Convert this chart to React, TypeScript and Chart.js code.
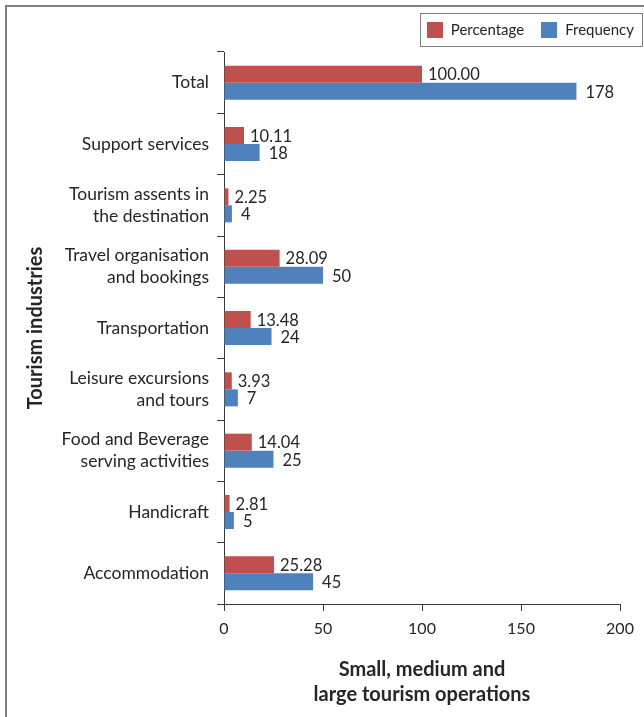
import React, { useEffect, useRef } from 'react';
import { Chart, registerables } from 'chart.js';

Chart.register(...registerables);

const categories: (string | string[])[] = [
  'Total',
  'Support services',
  ['Tourism assents in', 'the destination'],
  ['Travel organisation', 'and bookings'],
  'Transportation',
  ['Leisure excursions', 'and tours'],
  ['Food and Beverage', 'serving activities'],
  'Handicraft',
  'Accommodation',
];
const seriesNames = ['Percentage', 'Frequency'];
const percentage = [100.0, 10.11, 2.25, 28.09, 13.48, 3.93, 14.04, 2.81, 25.28];
const frequency = [178, 18, 4, 50, 24, 7, 25, 5, 45];
const xTickValues = [0, 50, 100, 150, 200];
const xTitle = ['Small, medium and', 'large tourism operations'];
const yTitle = 'Tourism industries';

const RED = '#C0504D';
const BLUE = '#4F81BD';
const TEXT = '#262626';
const AXIS = '#3a3a3a';
const FONT = 'Lato';

const framePlugin = {
  id: 'frame',
  beforeDraw(chart: any) {
    const ctx = chart.ctx;
    ctx.save();
    ctx.fillStyle = '#ffffff';
    ctx.fillRect(0, 0, chart.width, chart.height);
    ctx.fillStyle = '#7f7f7f';
    ctx.fillRect(5, 5, chart.width - 5, 2);
    ctx.fillRect(5, 5, 2, chart.height - 5);
    ctx.restore();
  },
};

const valueLabelPlugin = {
  id: 'valueLabels',
  afterDatasetsDraw(chart: any) {
    const ctx = chart.ctx;
    ctx.save();
    ctx.font = `16.5px ${FONT}`;
    ctx.fillStyle = TEXT;
    ctx.textAlign = 'left';
    ctx.textBaseline = 'middle';
    chart.data.datasets.forEach((ds: any, di: number) => {
      const meta = chart.getDatasetMeta(di);
      meta.data.forEach((el: any, i: number) => {
        const v = ds.data[i];
        const txt = di === 0 ? v.toFixed(2) : String(v);
        const gap = di === 0 ? 6 : 9;
        ctx.fillText(txt, el.x + gap, el.y + 1);
      });
    });
    ctx.restore();
  },
};

const legendPlugin = {
  id: 'boxLegend',
  afterDraw(chart: any) {
    const ctx = chart.ctx;
    ctx.save();
    ctx.font = `15px ${FONT}`;
    const colors = [RED, BLUE];
    const widths = seriesNames.map((n) => ctx.measureText(n).width);
    const padL = 7, sq = 16, gapT = 8, gapItem = 17, padR = 8;
    const total = padL + sq + gapT + widths[0] + gapItem + sq + gapT + widths[1] + padR;
    const right = 642;
    const top = 13, bottom = 46;
    const left = right - total;
    ctx.strokeStyle = '#7f7f7f';
    ctx.lineWidth = 1;
    ctx.strokeRect(Math.round(left) + 0.5, top + 0.5, Math.round(total), bottom - top);
    let x = left + padL;
    const cy = (top + bottom) / 2 + 0.5;
    seriesNames.forEach((n, i) => {
      ctx.fillStyle = colors[i];
      ctx.fillRect(Math.round(x), cy - 8, sq, sq);
      x += sq + gapT;
      ctx.fillStyle = TEXT;
      ctx.textBaseline = 'middle';
      ctx.textAlign = 'left';
      ctx.fillText(n, x, cy);
      x += widths[i] + gapItem;
    });
    ctx.restore();
  },
};

export default function App() {
  const ref = useRef<HTMLCanvasElement | null>(null);

  useEffect(() => {
    if (!ref.current) return;
    const chart = new Chart(ref.current, {
      type: 'bar',
      data: {
        labels: categories,
        datasets: [
          {
            label: seriesNames[0],
            data: percentage,
            backgroundColor: RED,
            categoryPercentage: 0.555,
            barPercentage: 1,
          },
          {
            label: seriesNames[1],
            data: frequency,
            backgroundColor: BLUE,
            categoryPercentage: 0.555,
            barPercentage: 1,
          },
        ],
      },
      options: {
        indexAxis: 'y',
        responsive: false,
        animation: false,
        devicePixelRatio: 1,
        layout: { padding: { left: 7, top: 52, right: 24, bottom: 0 } },
        plugins: {
          legend: { display: false },
          tooltip: { enabled: false },
        },
        scales: {
          x: {
            type: 'linear',
            min: 0,
            max: 200,
            afterBuildTicks: (scale: any) => {
              scale.ticks = xTickValues.map((v) => ({ value: v }));
            },
            afterFit: (scale: any) => {
              scale.height = 113;
            },
            ticks: {
              font: { family: FONT, size: 16 },
              color: TEXT,
              padding: 8,
            },
            grid: {
              drawOnChartArea: false,
              drawTicks: true,
              tickLength: 7,
              color: AXIS,
            },
            border: { display: true, color: AXIS, width: 1 },
            title: {
              display: true,
              text: xTitle,
              color: TEXT,
              font: { family: FONT, size: 20, weight: 'bold', lineHeight: 1.25 },
              padding: { top: 0, bottom: 10 },
            },
          },
          y: {
            type: 'category',
            afterFit: (scale: any) => {
              scale.width = 217;
            },
            ticks: {
              font: { family: FONT, size: 17.5, lineHeight: 1.26 },
              color: TEXT,
              padding: 8,
            },
            grid: {
              offset: true,
              drawOnChartArea: false,
              drawTicks: true,
              tickLength: 7,
              color: AXIS,
            },
            border: { display: true, color: AXIS, width: 1 },
            title: {
              display: true,
              text: yTitle,
              color: TEXT,
              font: { family: FONT, size: 20, weight: 'bold', lineHeight: 1.2 },
              padding: { top: 17, bottom: 0 },
            },
          },
        },
      },
      plugins: [framePlugin, valueLabelPlugin, legendPlugin],
    } as any);
    return () => chart.destroy();
  }, []);

  return (
    <div style={{ position: 'fixed', left: 0, top: 0, width: 644, height: 717 }}>
      <canvas ref={ref} width={644} height={717} style={{ display: 'block' }} />
    </div>
  );
}
